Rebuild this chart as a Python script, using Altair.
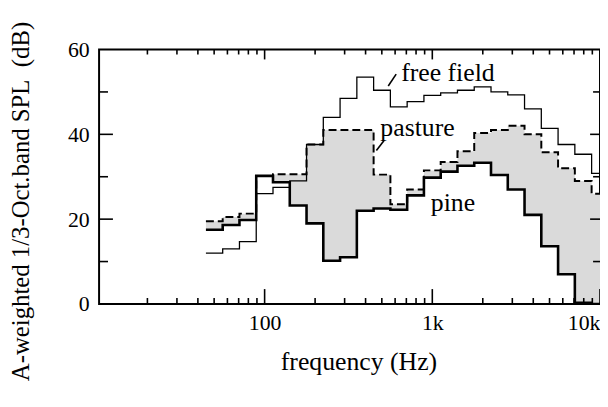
import math
import altair as alt
import pandas as pd

# 1/3-octave band centre frequencies (Hz)
centers = [50, 63, 80, 100, 125, 160, 200, 250, 315, 400, 500, 630, 800,
           1000, 1250, 1600, 2000, 2500, 3150, 4000, 5000, 6300, 8000, 10000]
# A-weighted 1/3-octave band SPL (dB)
free_field = [12, 13, 14.7, 26, 27.5, 29, 37.6, 44, 48.5, 53.5, 50.4, 46.5, 47.7,
              49.2, 49.8, 50.4, 51.2, 50, 49.3, 46, 41.4, 37.6, 35.3, 30.8]
pasture = [19.5, 20.5, 21.3, 30.2, 30.6, 30.6, 37.6, 41, 41, 41, 30.5, 23.5, 27,
           31.5, 33.5, 36, 40.3, 41, 42, 40, 35.8, 32, 29, 26]
pine = [17.5, 18.6, 19.8, 30.2, 28.7, 23.2, 19, 10.2, 11, 22, 22.5, 22.2, 25.6,
        29.8, 31.2, 32.6, 33.3, 30.4, 27, 21, 13.6, 7, 0.3, 0]

x_major = [100, 1000, 10000]
x_major_labels = ["100", "1k", "10k"]
x_minor = [20, 30, 40, 50, 60, 70, 80, 90,
           200, 300, 400, 500, 600, 700, 800, 900,
           2000, 3000, 4000, 5000, 6000, 7000, 8000, 9000]
y_labels = [0, 20, 40, 60]
y_major = [20, 40]
y_minor = [10, 30, 50]

ann_text = ["free field", "pasture", "pine"]
ann_f = [652, 490, 980]
ann_db = [52.5, 39.7, 21.9]

ptr_f1 = [546, 464]
ptr_db1 = [51.4, 36.2]
ptr_f2 = [609, 517]
ptr_db2 = [54.2, 38.6]

# ---- build step (band) table ----
rows = []
for k, (c, ff, pa, pi) in enumerate(zip(centers, free_field, pasture, pine)):
    n = round(10 * math.log10(c))
    lo = 10 ** ((n - 0.5) / 10)
    hi = 10 ** ((n + 0.5) / 10)
    rows.append(dict(i=2 * k, f=lo, ff=ff, pa=pa, pi=pi))
    rows.append(dict(i=2 * k + 1, f=hi, ff=ff, pa=pa, pi=pi))
df = pd.DataFrame(rows)

W, H = 506, 257
FONT = "Liberation Serif"
xscale = alt.Scale(type="log", domain=[10.3, 10000], nice=False)
yscale = alt.Scale(domain=[0, 60], nice=False)

label_expr = ""
for v, t in zip(x_major[:-1], x_major_labels[:-1]):
    label_expr += f"datum.value == {v} ? '{t}' : "
label_expr += f"'{x_major_labels[-1]}'"

XAX = alt.Axis(values=x_major, labelExpr=label_expr, title="frequency (Hz)",
               labelFlush=True, labelPadding=9, titleX=262, titleY=66,
               titleBaseline="alphabetic")
YAX = alt.Axis(values=y_labels, title="A-weighted 1/3-Oct.band SPL\u00a0 (dB)",
               labelPadding=10, titleX=-79, titleY=153, titleAngle=270,
               titleFontSize=25, titleAlign="center", titleBaseline="middle")


def X(field):
    return alt.X(field, type="quantitative", scale=xscale, axis=XAX)


def Y(field):
    return alt.Y(field, type="quantitative", scale=yscale, axis=YAX)


base = alt.Chart(df)

area = base.mark_area(color="#dadada", clip=True, interpolate="linear").encode(
    x=X("f"), y=Y("pa"), y2="pi:Q")

ff_line = base.mark_line(color="black", strokeWidth=1.3, clip=True).encode(
    x=X("f"), y=Y("ff"), order="i:Q")
pa_line = base.mark_line(color="black", strokeWidth=2, strokeDash=[8, 4], clip=True).encode(
    x=X("f"), y=Y("pa"), order="i:Q")
pi_line = base.mark_line(color="black", strokeWidth=2.6, clip=True).encode(
    x=X("f"), y=Y("pi"), order="i:Q")


def xticks(vals, y0, y1):
    return alt.Chart(pd.DataFrame({"f": vals})).mark_rule(color="black", strokeWidth=1.6).encode(
        x=X("f"), y=alt.value(y0), y2=alt.value(y1))


def yticks(vals, x0, x1):
    return alt.Chart(pd.DataFrame({"v": vals})).mark_rule(color="black", strokeWidth=1.6).encode(
        y=Y("v"), x=alt.value(x0), x2=alt.value(x1))


ticks = [
    xticks(x_minor, H, H - 6), xticks(x_major, H, H - 15),
    xticks(x_minor, 0, 5), xticks(x_major, 0, 10),
    yticks(y_minor, 0, 9), yticks(y_major, 0, 14),
    yticks(y_minor, W, W - 7), yticks(y_major, W, W - 10),
]

ann = alt.Chart(pd.DataFrame({"t": ann_text, "f": ann_f, "db": ann_db})).mark_text(
    align="left", baseline="alphabetic", font=FONT, fontSize=26, color="black").encode(
    x=X("f"), y=Y("db"), text="t:N")

ptr = alt.Chart(pd.DataFrame({"f1": ptr_f1, "d1": ptr_db1, "f2": ptr_f2, "d2": ptr_db2})).mark_rule(
    color="black", strokeWidth=1.6).encode(
    x=X("f1"), x2="f2:Q", y=Y("d1"), y2="d2:Q")

chart = alt.layer(area, ff_line, pa_line, pi_line, *ticks, ann, ptr).properties(
    width=W, height=H,
    padding={"left": 92, "top": 40, "right": 0, "bottom": 88},
    autosize=alt.AutoSizeParams(type="none"),
).configure_view(stroke="black", strokeWidth=2).configure_axis(
    grid=False, ticks=False, tickSize=0, domain=False,
    labelFont=FONT, titleFont=FONT, labelFontSize=22, titleFontSize=26,
    labelColor="black", titleColor="black", titleFontWeight="normal",
)

chart.save("out.html", embed_options={"renderer": "svg", "actions": False})
